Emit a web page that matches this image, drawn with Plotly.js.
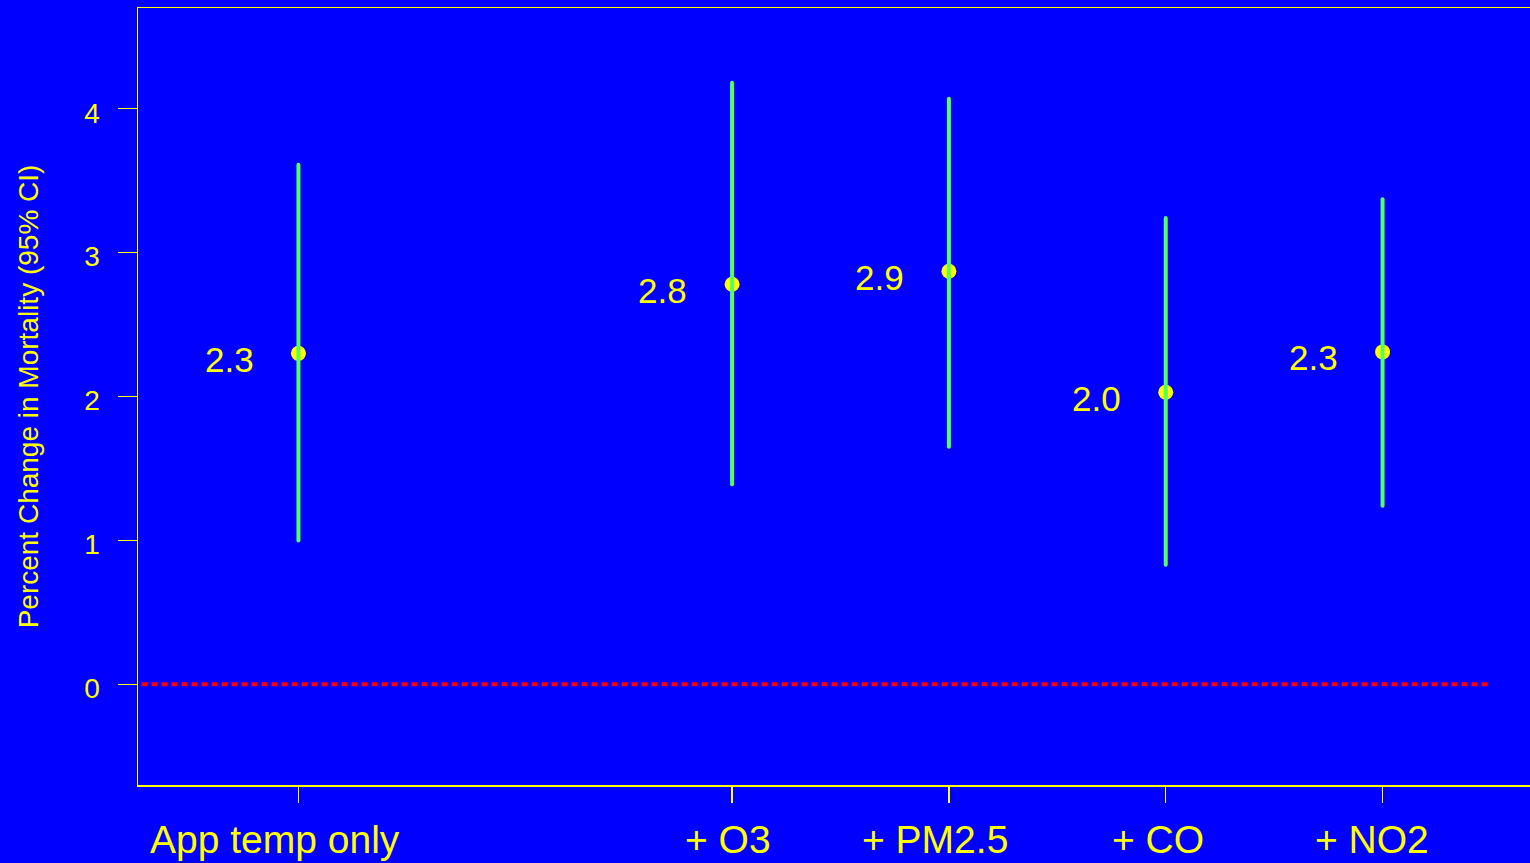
<!DOCTYPE html>
<html>
<head>
<meta charset="utf-8">
<script src="https://cdn.plot.ly/plotly-3.0.1.min.js"></script>
<style>
  html, body { margin: 0; padding: 0; background: #0000ff; overflow: hidden; }
  #chart { width: 1530px; height: 863px; }
  .scatterlayer .trace:nth-child(3) path.js-line { stroke-linecap: round; }
</style>
</head>
<body>
<div id="chart"></div>
<script>
// ---- data ----
const categories = ["App temp only", "+ O3", "+ PM2.5", "+ CO", "+ NO2"];
const positions  = [1, 3, 4, 5, 6];
const estimates  = [2.30, 2.78, 2.87, 2.03, 2.31];
const lower      = [1.00, 1.39, 1.65, 0.83, 1.24];
const upper      = [3.61, 4.18, 4.07, 3.24, 3.37];
const yTickVals  = [0, 1, 2, 3, 4];
const refLineX   = [0, 6.5];
const refLineY   = [0, 0];

// ---- style ----
const YELLOW = "#ffff00";
const GREEN = "#55ff60";
const BLUE = "#0000ff";
const FONT = "Liberation Sans, Arial, Helvetica, sans-serif";
const labelOffset = 0.32;            // estimate labels sit left of the point
const catShift = [-23, -4, -14, -8, -11]; // px shifts of category labels

// CI segments
const ciX = [], ciY = [];
positions.forEach((p, i) => {
  ciX.push(p, p, null);
  ciY.push(lower[i], upper[i], null);
});

const traces = [
  {
    x: refLineX, y: refLineY, mode: "lines", type: "scatter",
    line: { color: "#ff0000", width: 4, dash: "6px,4px" },
    hoverinfo: "skip", showlegend: false
  },
  {
    x: positions, y: estimates, mode: "markers", type: "scatter",
    marker: { color: YELLOW, size: 15, line: { width: 0 } },
    showlegend: false
  },
  {
    x: ciX, y: ciY, mode: "lines", type: "scatter",
    line: { color: GREEN, width: 4 },
    showlegend: false, hoverinfo: "skip"
  }
];

const estLabels = positions.map((p, i) => ({
  text: estimates[i].toFixed(1), x: p - labelOffset, xref: "x",
  y: estimates[i], yref: "y", xanchor: "center", yanchor: "middle",
  yshift: -6, showarrow: false,
  font: { family: FONT, size: 35, color: YELLOW }
}));

const catLabels = categories.map((c, i) => ({
  text: c, x: positions[i], xref: "x", y: 0, yref: "paper",
  xanchor: "center", yanchor: "middle", yshift: -54, xshift: catShift[i],
  showarrow: false, font: { family: FONT, size: 39, color: YELLOW }
}));

const layout = {
  width: 1530, height: 863,
  margin: { l: 138, r: 0, t: 8, b: 78 },
  paper_bgcolor: BLUE, plot_bgcolor: BLUE,
  font: { family: FONT, color: YELLOW },
  showlegend: false,
  xaxis: {
    range: [0.26, 6.68],
    tickvals: positions, ticktext: categories.map(() => ""),
    ticks: "outside", ticklen: 16, tickwidth: 1.5, tickcolor: YELLOW,
    showline: true, linecolor: YELLOW, linewidth: 1.5, mirror: true,
    showgrid: false, zeroline: false
  },
  yaxis: {
    range: [-0.7, 4.7],
    tickvals: yTickVals, ticktext: yTickVals.map(String),
    ticks: "outside", ticklen: 19, tickwidth: 1.5, tickcolor: YELLOW,
    tickfont: { family: FONT, size: 28, color: YELLOW },
    ticklabelstandoff: 12, ticklabelshift: 4,
    showline: true, linecolor: YELLOW, linewidth: 1.5, mirror: false,
    showgrid: false, zeroline: false,
    title: { text: "Percent Change in Mortality (95% CI)",
             font: { family: FONT, size: 28, color: YELLOW }, standoff: 37 }
  },
  annotations: estLabels.concat(catLabels)
};

Plotly.newPlot("chart", traces, layout, { displayModeBar: false, staticPlot: true });
</script>
</body>
</html>
